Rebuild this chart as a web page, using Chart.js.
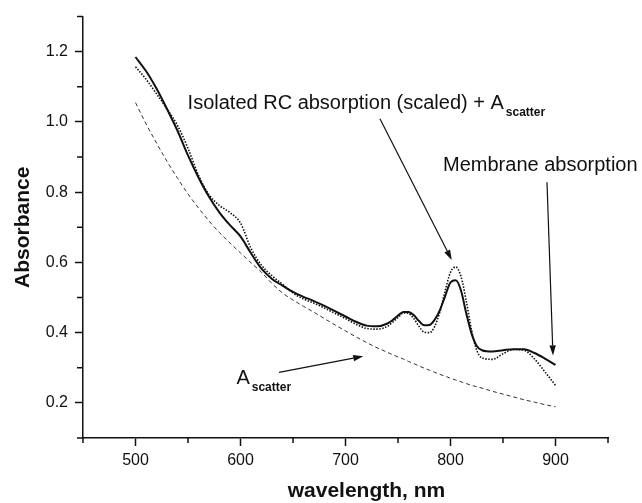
<!DOCTYPE html>
<html>
<head>
<meta charset="utf-8">
<script src="https://cdn.jsdelivr.net/npm/chart.js@4.4.1/dist/chart.umd.min.js"></script>
<style>
  html, body { margin: 0; padding: 0; background: #fff; }
  canvas { display: block; }
</style>
</head>
<body>
<canvas id="chart" width="642" height="503"></canvas>
<script>
// Wavelength grid (nm)
const wavelengthNm = [500, 510, 520, 530, 540, 550, 560, 570, 580, 590, 600, 610, 620, 630, 640, 650, 660, 670, 680, 690,
    700, 710, 720, 730, 740, 745, 750, 755, 760, 765, 770, 775, 780, 785, 790, 795, 800, 805, 810, 815,
    820, 825, 830, 840, 850, 860, 870, 880, 890, 900];

// Membrane absorption (solid line)
const membraneAbs = [1.185, 1.145, 1.095, 1.037, 0.975, 0.905, 0.842, 0.787, 0.742, 0.706, 0.674, 0.626, 0.582, 0.553, 0.534, 0.516, 0.502, 0.490, 0.476, 0.461,
    0.446, 0.431, 0.420, 0.418, 0.426, 0.436, 0.449, 0.459, 0.459, 0.450, 0.433, 0.421, 0.422, 0.437, 0.465, 0.505, 0.543, 0.549, 0.520, 0.455,
    0.398, 0.362, 0.350, 0.346, 0.350, 0.353, 0.353, 0.342, 0.326, 0.308];

// Isolated RC absorption (scaled) + A_scatter (dotted line)
const rcAbs = [1.157, 1.122, 1.080, 1.037, 0.990, 0.925, 0.848, 0.793, 0.762, 0.742, 0.712, 0.640, 0.592, 0.562, 0.538, 0.513, 0.496, 0.484, 0.470, 0.455,
    0.440, 0.424, 0.412, 0.410, 0.418, 0.430, 0.443, 0.456, 0.455, 0.440, 0.418, 0.401, 0.400, 0.418, 0.460, 0.520, 0.572, 0.587, 0.560, 0.490,
    0.408, 0.350, 0.328, 0.324, 0.340, 0.352, 0.350, 0.325, 0.288, 0.250];

// A_scatter (dashed line)
const scatterAbs = [1.055, 0.995, 0.940, 0.888, 0.840, 0.795, 0.755, 0.718, 0.685, 0.655, 0.627, 0.599, 0.572, 0.540, 0.513, 0.493, 0.475, 0.458, 0.440, 0.422,
    0.405, 0.388, 0.372, 0.357, 0.344, 0.337, 0.331, 0.325, 0.318, 0.312, 0.305, 0.299, 0.293, 0.287, 0.281, 0.276, 0.270, 0.265, 0.260, 0.255,
    0.250, 0.246, 0.242, 0.233, 0.225, 0.217, 0.209, 0.202, 0.195, 0.189];

// Axis ranges / tick steps
const xMin = 450, xMax = 950, xStep = 50;
const yMin = 0.1, yMax = 1.3, yStep = 0.1;

const toPoints = (ys) => wavelengthNm.map((x, i) => ({ x: x, y: ys[i] }));

const ink = "#111";
Chart.defaults.font.family = "'Liberation Sans', Arial, sans-serif";
Chart.defaults.color = ink;

const isMajorX = (v) => Math.round(v) % 100 === 0;
const isMajorY = (v) => Math.round(v * 10) % 2 === 0;

// Text labels, arrows and short minor ticks
const annotate = {
    id: "annotate",
    afterDraw(chart) {
        const { ctx, scales: { x, y }, chartArea } = chart;
        const px = (v) => x.getPixelForValue(v);
        const py = (v) => y.getPixelForValue(v);
        ctx.save();

        // minor ticks (shorter than the major ones)
        ctx.strokeStyle = ink;
        ctx.lineWidth = 1.5;
        ctx.beginPath();
        x.ticks.forEach(t => {
            if (!isMajorX(t.value)) {
                const xx = px(t.value);
                ctx.moveTo(xx, chartArea.bottom);
                ctx.lineTo(xx, chartArea.bottom + 5);
            }
        });
        y.ticks.forEach(t => {
            if (!isMajorY(t.value)) {
                const yy = py(t.value);
                ctx.moveTo(chartArea.left, yy);
                ctx.lineTo(chartArea.left - 6, yy);
            }
        });
        ctx.stroke();

        // x axis title
        ctx.fillStyle = ink;
        ctx.font = "bold 21px 'Liberation Sans', Arial, sans-serif";
        ctx.textAlign = "center";
        ctx.textBaseline = "alphabetic";
        ctx.fillText("wavelength, nm", px(720), chartArea.bottom + 59);

        // label with a subscript
        const label = (main, sub, lx, ly) => {
            ctx.textAlign = "left";
            ctx.font = "20px 'Liberation Sans', Arial, sans-serif";
            ctx.fillText(main, lx, ly);
            const w = ctx.measureText(main).width;
            if (sub) {
                ctx.font = "bold 12px 'Liberation Sans', Arial, sans-serif";
                ctx.fillText(sub, lx + w + 2, ly + 7);
            }
        };
        label("Isolated RC absorption (scaled) + A", "scatter", px(549.6), py(1.038));
        label("Membrane absorption", null, px(792.9), py(0.861));
        label("A", "scatter", px(596.1), py(0.255));

        const arrow = (x0, y0, x1, y1) => {
            const a = Math.atan2(y1 - y0, x1 - x0);
            const len = 10, half = 3.2;
            ctx.lineWidth = 1.2;
            ctx.beginPath();
            ctx.moveTo(x0, y0);
            ctx.lineTo(x1 - len * Math.cos(a), y1 - len * Math.sin(a));
            ctx.stroke();
            ctx.beginPath();
            ctx.moveTo(x1, y1);
            ctx.lineTo(x1 - len * Math.cos(a) + half * Math.sin(a), y1 - len * Math.sin(a) - half * Math.cos(a));
            ctx.lineTo(x1 - len * Math.cos(a) - half * Math.sin(a), y1 - len * Math.sin(a) + half * Math.cos(a));
            ctx.closePath();
            ctx.fill();
        };
        arrow(px(732.8), py(1.009), px(801.2), py(0.607));
        arrow(px(891.9), py(0.828), px(897.6), py(0.335));
        arrow(px(636.7), py(0.287), px(716.9), py(0.333));

        ctx.restore();
    }
};

new Chart(document.getElementById("chart"), {
    type: "line",
    data: {
        datasets: [
            {
                label: "Membrane absorption",
                data: toPoints(membraneAbs),
                borderColor: ink,
                borderWidth: 2,
                pointRadius: 0,
                cubicInterpolationMode: "monotone"
            },
            {
                label: "Isolated RC absorption (scaled) + A scatter",
                data: toPoints(rcAbs),
                borderColor: ink,
                borderWidth: 1.6,
                borderDash: [1.5, 1.5],
                pointRadius: 0,
                cubicInterpolationMode: "monotone"
            },
            {
                label: "A scatter",
                data: toPoints(scatterAbs),
                borderColor: "#333",
                borderWidth: 1,
                borderDash: [4, 3],
                pointRadius: 0,
                cubicInterpolationMode: "monotone"
            }
        ]
    },
    options: {
        responsive: false,
        animation: false,
        layout: { padding: { top: 13, right: 34, left: 0, bottom: 0 } },
        plugins: {
            legend: { display: false },
            tooltip: { enabled: false }
        },
        scales: {
            x: {
                type: "linear",
                min: xMin,
                max: xMax,
                afterFit: (s) => { s.height = 65; },
                border: { display: true, color: ink, width: 1.5 },
                grid: {
                    drawOnChartArea: false,
                    tickLength: 8,
                    tickWidth: 1.5,
                    tickColor: (c) => isMajorX(c.tick.value) ? ink : "rgba(0,0,0,0)"
                },
                ticks: {
                    stepSize: xStep,
                    autoSkip: false,
                    maxRotation: 0,
                    padding: 5,
                    font: { size: 16 },
                    callback: (v) => isMajorX(v) ? String(v) : ""
                }
            },
            y: {
                min: yMin,
                max: yMax,
                afterFit: (s) => { s.width = 83; },
                border: { display: true, color: ink, width: 1.5 },
                grid: {
                    drawOnChartArea: false,
                    tickLength: 8,
                    tickWidth: 1.5,
                    tickColor: (c) => isMajorY(c.tick.value) ? ink : "rgba(0,0,0,0)"
                },
                ticks: {
                    stepSize: yStep,
                    autoSkip: false,
                    padding: 7,
                    font: { size: 16 },
                    callback: (v) => isMajorY(v) ? v.toFixed(1) : ""
                },
                title: {
                    display: true,
                    text: "Absorbance",
                    font: { size: 21, weight: "bold" },
                    padding: { top: 11, bottom: 0 }
                }
            }
        }
    },
    plugins: [annotate]
});
</script>
</body>
</html>
